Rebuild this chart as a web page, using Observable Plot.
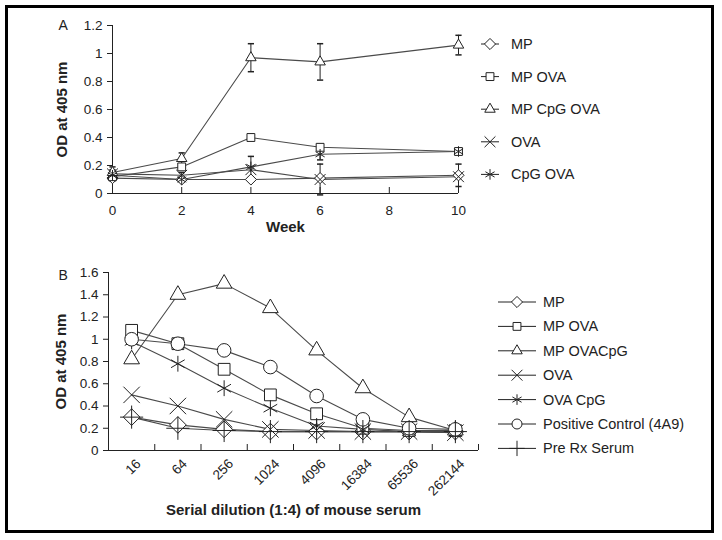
<!DOCTYPE html>
<html>
<head>
<meta charset="utf-8">
<script src="https://cdn.jsdelivr.net/npm/d3@7"></script>
<script src="https://cdn.jsdelivr.net/npm/@observablehq/plot@0.6"></script>
<style>
  body { margin: 0; background: #fff; }
  #wrap { position: relative; width: 722px; height: 540px; overflow: hidden; font-family: "Liberation Sans", Arial, sans-serif; }
  #frame { position: absolute; left: 5px; top: 5px; width: 709px; height: 528px; box-sizing: border-box; border: 3px solid #000; }
  #wrap svg { position: absolute; }
</style>
</head>
<body>
<div id="wrap"><div id="frame"></div></div>
<script>
// ---------- Panel A data ----------
const weeks = [0, 2, 4, 6, 10];
const weekTicks = [0, 2, 4, 6, 8, 10];
const odTicksA = [0, 0.2, 0.4, 0.6, 0.8, 1, 1.2];
const seriesA = ["MP", "MP OVA", "MP CpG OVA", "OVA", "CpG OVA"];
const mpA       = [0.11, 0.10, 0.10, 0.11, 0.13];
const mpOvaA    = [0.12, 0.19, 0.40, 0.33, 0.30];
const mpCpgOvaA = [0.15, 0.25, 0.97, 0.94, 1.06];
const ovaA      = [0.14, 0.13, 0.17, 0.10, 0.12];
const cpgOvaA   = [0.13, 0.10, 0.19, 0.28, 0.30];
const mpErrA       = [0.02, 0, 0, 0, 0.08];
const mpOvaErrA    = [0.02, 0.02, 0.01, 0.02, 0.02];
const mpCpgOvaErrA = [0.04, 0.04, 0.10, 0.13, 0.07];
const ovaErrA      = [0.03, 0.02, 0, 0.11, 0];
const cpgOvaErrA   = [0.03, 0.02, 0.075, 0.04, 0];

// ---------- Panel B data ----------
const dilutions = ["16", "64", "256", "1024", "4096", "16384", "65536", "262144"];
const odTicksB = [0, 0.2, 0.4, 0.6, 0.8, 1, 1.2, 1.4, 1.6];
const seriesB = ["MP", "MP OVA", "MP OVACpG", "OVA", "OVA CpG", "Positive Control (4A9)", "Pre Rx Serum"];
const mpB      = [0.30, 0.23, 0.19, 0.17, 0.17, 0.17, 0.17, 0.17];
const mpOvaB   = [1.08, 0.96, 0.73, 0.50, 0.33, 0.20, 0.18, 0.18];
const mpOvaCpgB= [0.82, 1.40, 1.50, 1.28, 0.90, 0.56, 0.30, 0.18];
const ovaB     = [0.50, 0.40, 0.28, 0.19, 0.18, 0.17, 0.17, 0.16];
const ovaCpgB  = [0.98, 0.78, 0.56, 0.38, 0.22, 0.19, 0.17, 0.16];
const posCtrlB = [1.00, 0.96, 0.90, 0.75, 0.49, 0.28, 0.20, 0.19];
const preRxB   = [0.30, 0.20, 0.18, 0.17, 0.17, 0.17, 0.17, 0.17];

// ---------- styling ----------
const FONT = '"Liberation Sans", Arial, sans-serif';
const symbolsA = ["diamond2", "square2", "triangle2", "times", "asterisk"];
const symbolsB = ["diamond2", "square2", "triangle2", "times", "asterisk", "circle", "plus"];
const d3SymA = [d3.symbolDiamond2, d3.symbolSquare2, d3.symbolTriangle2, d3.symbolTimes, d3.symbolAsterisk];
const d3SymB = [d3.symbolDiamond2, d3.symbolSquare2, d3.symbolTriangle2, d3.symbolTimes, d3.symbolAsterisk, d3.symbolCircle, d3.symbolPlus];
const capSymbol = { draw(ctx, size) { const w = Math.sqrt(size) / 2; ctx.moveTo(-w, 0); ctx.lineTo(w, 0); } };

const valuesA = [mpA, mpOvaA, mpCpgOvaA, ovaA, cpgOvaA];
const errsA = [mpErrA, mpOvaErrA, mpCpgOvaErrA, ovaErrA, cpgOvaErrA];
const rowsA = seriesA.flatMap((s, k) => weeks.map((w, i) => ({series: s, k, week: w, od: valuesA[k][i], err: errsA[k][i]})));
const errRowsA = rowsA.filter(d => d.err > 0);

const valuesB = [mpB, mpOvaB, mpOvaCpgB, ovaB, ovaCpgB, posCtrlB, preRxB];
const rowsB = seriesB.flatMap((s, k) => dilutions.map((dl, i) => ({series: s, k, idx: i, od: valuesB[k][i]})));

const LINE = "#4a4a4a";
const INK = "#222";

// ---------- Panel A ----------
const marksA = [
  Plot.ruleY([0], {stroke: INK}),
  Plot.ruleX([0], {stroke: INK}),
  Plot.axisY({ticks: odTicksA, tickFormat: d3.format("~g"), tickSize: 5, tickPadding: 5, label: null, fontSize: 13.5}),
  Plot.ruleX(weekTicks, {y1: 0, y2: 0, insetTop: -6, stroke: INK}),
  Plot.axisX({ticks: weekTicks, tickSize: 0, tickPadding: 12, label: null, fontSize: 13.5}),
  Plot.ruleX(errRowsA, {x: "week", y1: d => d.od - d.err, y2: d => d.od + d.err, stroke: INK}),
  Plot.dot(errRowsA, {x: "week", y: d => d.od + d.err, symbol: capSymbol, r: 3.5, stroke: INK}),
  Plot.dot(errRowsA, {x: "week", y: d => d.od - d.err, symbol: capSymbol, r: 3.5, stroke: INK}),
];
seriesA.forEach((s, k) => {
  const data = rowsA.filter(d => d.k === k);
  marksA.push(Plot.line(data, {x: "week", y: "od", stroke: LINE, strokeWidth: 1.1}));
});
seriesA.forEach((s, k) => {
  const data = rowsA.filter(d => d.k === k);
  marksA.push(Plot.dot(data, {x: "week", y: "od", symbol: symbolsA[k], r: 5, fill: k >= 3 ? "none" : "white", stroke: INK, strokeWidth: 1}));
});
marksA.push(
  Plot.text(["OD at 405 nm"], {frameAnchor: "left", textAnchor: "middle", dx: -50, rotate: -90, fontWeight: "bold", fontSize: 15, fill: INK}),
  Plot.text(["Week"], {frameAnchor: "bottom", dy: 38, fontWeight: "bold", fontSize: 15, fill: INK}),
  Plot.text(["A"], {frameAnchor: "top-left", textAnchor: "start", lineAnchor: "middle", dx: -54, dy: 0, fontSize: 14, fill: INK})
);

const plotA = Plot.plot({
  width: 470, height: 245,
  marginLeft: 112, marginRight: 12, marginTop: 25, marginBottom: 52,
  style: {fontFamily: FONT, fontSize: "13.5px", color: INK, background: "transparent", overflow: "visible"},
  x: {domain: [0, 10], axis: null},
  y: {domain: [0, 1.2], axis: null},
  marks: marksA
});
plotA.style.left = "0px"; plotA.style.top = "0px";
document.getElementById("wrap").appendChild(plotA);

// ---------- Panel B ----------
const marksB = [
  Plot.ruleY([0], {stroke: INK}),
  Plot.ruleX([-0.5], {stroke: INK}),
  Plot.axisY({ticks: odTicksB, tickFormat: d3.format("~g"), tickSize: 5, tickPadding: 5, label: null, fontSize: 13.5}),
  Plot.ruleX(d3.range(dilutions.length + 1).map(i => i - 0.5), {y1: 0, y2: 0, insetTop: -6, stroke: INK}),
  Plot.axisX({ticks: d3.range(dilutions.length), tickFormat: i => dilutions[i], tickRotate: -45, tickSize: 0, tickPadding: 11, dx: 7, label: null, fontSize: 13.5}),
];
seriesB.forEach((s, k) => {
  const data = rowsB.filter(d => d.k === k);
  marksB.push(Plot.line(data, {x: "idx", y: "od", stroke: LINE, strokeWidth: 1.1}));
});
seriesB.forEach((s, k) => {
  const data = rowsB.filter(d => d.k === k);
  const hollow = symbolsB[k] === "times" || symbolsB[k] === "asterisk" || symbolsB[k] === "plus";
  marksB.push(Plot.dot(data, {x: "idx", y: "od", symbol: symbolsB[k], r: symbolsB[k] === "circle" ? 6.8 : 7.5, fill: hollow ? "none" : "white", stroke: INK, strokeWidth: 1}));
});
marksB.push(
  Plot.text(["OD at 405 nm"], {frameAnchor: "left", textAnchor: "middle", dx: -47, rotate: -90, fontWeight: "bold", fontSize: 15, fill: INK}),
  Plot.text(["Serial dilution (1:4) of mouse serum"], {frameAnchor: "bottom", dy: 64, fontWeight: "bold", fontSize: 15, fill: INK}),
  Plot.text(["B"], {frameAnchor: "top-left", textAnchor: "start", lineAnchor: "middle", dx: -50, dy: 3, fontSize: 14, fill: INK})
);

const plotB = Plot.plot({
  width: 490, height: 282,
  marginLeft: 108, marginRight: 12, marginTop: 22, marginBottom: 82,
  style: {fontFamily: FONT, fontSize: "13.5px", color: INK, background: "transparent", overflow: "visible"},
  x: {domain: [-0.5, dilutions.length - 0.5], axis: null},
  y: {domain: [0, 1.6], axis: null},
  marks: marksB
});
plotB.style.left = "0px"; plotB.style.top = "250px";
document.getElementById("wrap").appendChild(plotB);

// ---------- Legends ----------
const leg = d3.select("#wrap").append("svg")
  .attr("width", 722).attr("height", 540)
  .style("left", "0px").style("top", "0px")
  .style("font-family", FONT);

function drawLegend(names, syms, x0, x1, tx, y0, dy, size, fontSize) {
  names.forEach((name, k) => {
    const y = y0 + k * dy;
    const cx = (x0 + x1) / 2;
    leg.append("line").attr("x1", x0).attr("x2", x1).attr("y1", y).attr("y2", y).attr("stroke", INK).attr("stroke-width", 1);
    const hollow = syms[k] === d3.symbolTimes || syms[k] === d3.symbolAsterisk || syms[k] === d3.symbolPlus;
    leg.append("path").attr("d", d3.symbol(syms[k], size)()).attr("transform", `translate(${cx},${y})`)
      .attr("fill", hollow ? "none" : "white").attr("stroke", INK).attr("stroke-width", 1);
    leg.append("text").attr("x", tx).attr("y", y).attr("dy", "0.35em").attr("font-size", fontSize).attr("fill", INK).text(name);
  });
}
drawLegend(seriesA, d3SymA, 481, 499, 511, 44, 32.6, Math.PI * 25, 14.5);
drawLegend(seriesB, d3SymB, 498, 536, 543, 302, 24.4, Math.PI * 25, 14.5);
</script>
</body>
</html>
